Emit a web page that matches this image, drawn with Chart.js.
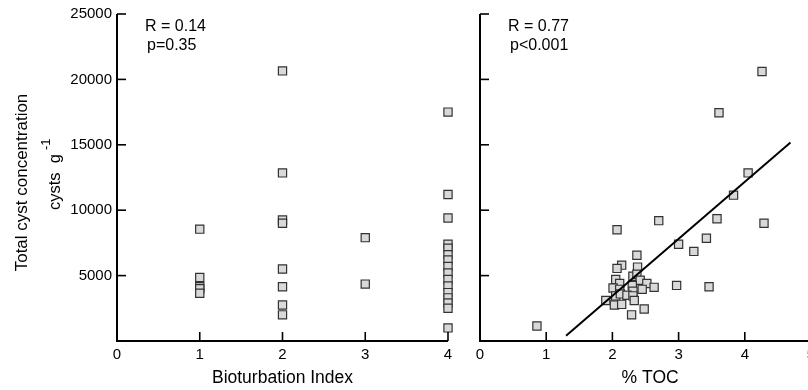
<!DOCTYPE html>
<html>
<head>
<meta charset="utf-8">
<title>Total cyst concentration</title>
<script src="https://cdn.jsdelivr.net/npm/chart.js@4.4.0/dist/chart.umd.min.js"></script>
<style>
  html, body { margin: 0; padding: 0; background: #fff; overflow: hidden; width: 808px; height: 390px; }
  #graficoBio { position: absolute; left: 0; top: 0; }
  #graficoToc { position: absolute; left: 462px; top: 0; }
</style>
</head>
<body>
<canvas id="graficoBio" width="462" height="390"></canvas>
<canvas id="graficoToc" width="370" height="390"></canvas>
<script>
//DATOS//
// panel izquierdo: indice de bioturbacion vs quistes
const bioturbacion = [1, 1, 1, 1, 1,
  2, 2, 2, 2, 2, 2, 2, 2,
  3, 3,
  4, 4, 4, 4, 4, 4, 4, 4, 4, 4, 4, 4, 4, 4, 4, 4]
const quistesBio = [8550, 4850, 4150, 4000, 3650,
  20650, 12850, 9250, 9000, 5500, 4150, 2750, 2000,
  7900, 4350,
  17500, 11200, 9400, 7400, 7100, 6600, 6200, 5700, 5200, 4700, 4200, 3700, 3300, 2900, 2500, 1000]

// panel derecho: % TOC vs quistes
const toc = [4.26, 3.61, 4.05, 3.83, 3.58, 2.70, 4.29, 2.07, 3.42, 3.00,
  3.23, 2.37, 2.14, 2.07, 2.38, 2.31, 2.37, 2.05, 2.42, 2.11,
  2.52, 2.30, 2.63, 2.97, 3.46, 2.01, 2.45, 2.11, 2.31, 2.05,
  2.12, 2.22, 2.31, 1.90, 2.33, 2.03, 2.14, 2.48, 2.29, 0.86]
const quistesToc = [20600, 17450, 12850, 11150, 9350, 9200, 9000, 8500, 7850, 7400,
  6850, 6550, 5800, 5550, 5650, 4950, 5100, 4700, 4650, 4400,
  4400, 4250, 4100, 4250, 4150, 4050, 3950, 3950, 3800, 3450,
  3600, 3500, 3450, 3100, 3100, 2750, 2800, 2450, 2000, 1150]

// recta de regresion (extremos)
const rectaX = [1.3, 4.69]
const rectaY = [400, 15170]

const textoBio = ["R = 0.14", "p=0.35"]
const textoToc = ["R = 0.77", "p<0.001"]

const fuente = "'Liberation Sans', Arial, Helvetica, sans-serif"
Chart.defaults.font.family = fuente
Chart.defaults.color = "#000"

function puntos(xs, ys) {
    return xs.map((x, i) => ({ x: x, y: ys[i] }))
}

//PLUGIN: EJES CON MARCAS HACIA DENTRO Y TEXTOS----------------------
const ejes = {
    id: "ejes",
    afterDraw(chart, args, opts) {
        const ctx = chart.ctx
        const xs = chart.scales.x
        const ys = chart.scales.y
        const x0 = xs.getPixelForValue(xs.min)
        const x1 = xs.getPixelForValue(xs.max)
        const y0 = ys.getPixelForValue(ys.min)
        const y1 = ys.getPixelForValue(ys.max)
        ctx.save()
        ctx.strokeStyle = "#000"
        ctx.lineWidth = 2
        ctx.beginPath()
        ctx.moveTo(x0, y1)
        ctx.lineTo(x0, y0)
        ctx.lineTo(x1, y0)
        ctx.stroke()
        ctx.lineWidth = 1.6
        ys.ticks.forEach((t) => {
            if (t.value == ys.min) return
            const py = ys.getPixelForValue(t.value)
            ctx.beginPath()
            ctx.moveTo(x0, py)
            ctx.lineTo(x0 + 9, py)
            ctx.stroke()
        })
        xs.ticks.forEach((t) => {
            if (t.value == xs.min) return
            const px = xs.getPixelForValue(t.value)
            ctx.beginPath()
            ctx.moveTo(px, y0)
            ctx.lineTo(px, y0 - 9)
            ctx.stroke()
        })

        // R y p
        ctx.fillStyle = "#000"
        ctx.textAlign = "left"
        ctx.textBaseline = "alphabetic"
        ctx.font = "16px " + fuente
        ctx.fillText(opts.lineas[0], x0 + 28, 31)
        ctx.fillText(opts.lineas[1], x0 + 30, 50)

        // titulo eje x
        ctx.font = "17.5px " + fuente
        ctx.textAlign = "center"
        ctx.textBaseline = "middle"
        ctx.fillText(opts.titulo, xs.getPixelForValue(opts.centroX), 378)

        // titulo eje y
        if (opts.ejeY) {
            ctx.save()
            ctx.translate(22, (y0 + y1) / 2 + 5)
            ctx.rotate(-Math.PI / 2)
            ctx.font = "17px " + fuente
            ctx.fillText("Total cyst concentration", 0, 0)
            ctx.restore()

            ctx.save()
            ctx.translate(60, 210)
            ctx.rotate(-Math.PI / 2)
            ctx.textAlign = "left"
            ctx.textBaseline = "alphabetic"
            ctx.font = "16.5px " + fuente
            const txt = "cysts  g"
            ctx.fillText(txt, 0, 0)
            const w = ctx.measureText(txt).width
            ctx.font = "13px " + fuente
            ctx.fillText("-1", w + 4, -10)
            ctx.restore()
        }
        ctx.restore()
    }
}

//OPCIONES COMUNES---------------------------------------------------
function opciones(xMax, anchoY, mostrarY, textos) {
    return {
        responsive: false,
        animation: false,
        layout: { padding: { left: 0, top: 14, right: textos.derecha, bottom: 0 } },
        plugins: {
            legend: { display: false },
            tooltip: { enabled: false },
            ejes: textos
        },
        scales: {
            x: {
                type: "linear",
                min: 0,
                max: xMax,
                grid: { display: false, drawTicks: false },
                border: { display: false },
                ticks: { stepSize: 1, padding: 5, font: { size: 15 }, maxRotation: 0 },
                afterFit: (s) => { s.height = 49 }
            },
            y: {
                type: "linear",
                min: 0,
                max: 25000,
                grid: { display: false, drawTicks: false },
                border: { display: false },
                ticks: {
                    display: mostrarY,
                    stepSize: 5000,
                    padding: 5,
                    font: { size: 15 },
                    callback: (v) => (v == 0 ? "" : v)
                },
                afterFit: (s) => { s.width = anchoY }
            }
        }
    }
}

const estiloPunto = {
    showLine: false,
    clip: 12,
    pointStyle: "rect",
    pointRadius: 5.8,
    pointBackgroundColor: "#d9d9d9",
    pointBorderColor: "#333",
    pointBorderWidth: 1.2
}

//GRAFICO IZQUIERDO---------------------------------------------------
new Chart(document.getElementById("graficoBio"), {
    type: "scatter",
    data: {
        datasets: [Object.assign({ data: puntos(bioturbacion, quistesBio) }, estiloPunto)]
    },
    options: opciones(4, 117, true, {
        lineas: textoBio, titulo: "Bioturbation Index", centroX: 2, ejeY: true, derecha: 14
    }),
    plugins: [ejes]
})

//GRAFICO DERECHO------------------------------------------------------
new Chart(document.getElementById("graficoToc"), {
    type: "scatter",
    data: {
        datasets: [
            {
                type: "line",
                data: puntos(rectaX, rectaY),
                borderColor: "#000",
                borderWidth: 2,
                pointRadius: 0,
                fill: false
            },
            Object.assign({ data: puntos(toc, quistesToc) }, estiloPunto)
        ]
    },
    options: opciones(5, 18, false, {
        lineas: textoToc, titulo: "% TOC", centroX: 2.57, ejeY: false, derecha: 21
    }),
    plugins: [ejes]
})
</script>
</body>
</html>
